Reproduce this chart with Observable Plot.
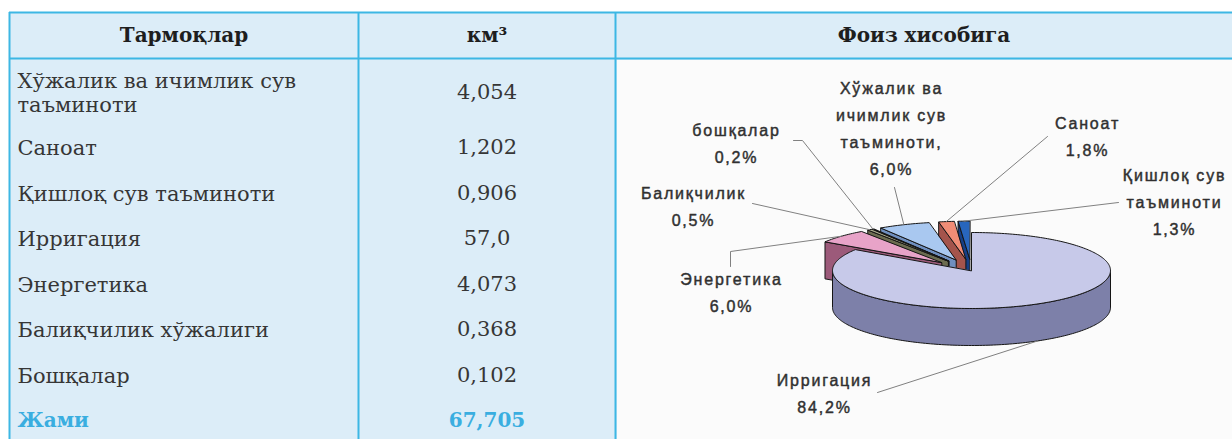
<!DOCTYPE html>
<html><head><meta charset="utf-8">
<script src="https://cdn.jsdelivr.net/npm/d3@7"></script>
<script src="https://cdn.jsdelivr.net/npm/@observablehq/plot@0.6"></script>
<style>
html,body{margin:0;padding:0;background:#fff;}
.pielab text{letter-spacing:1.8px;}
</style></head><body><div id="chart"></div>
<script>
// ---- data ----
const headers = ["Тармоқлар", "км³", "Фоиз хисобига"];
const categories = ["Хўжалик ва ичимлик сув таъминоти", "Саноат", "Қишлоқ сув таъминоти", "Ирригация", "Энергетика", "Балиқчилик хўжалиги", "Бошқалар"];
const tableNames = ["Хўжалик ва ичимлик сув\nтаъминоти", "Саноат", "Қишлоқ сув таъминоти", "Ирригация", "Энергетика", "Балиқчилик хўжалиги", "Бошқалар"];
const values = [4.054, 1.202, 0.906, 57.0, 4.073, 0.368, 0.102];
const valueLabels = ["4,054", "1,202", "0,906", "57,0", "4,073", "0,368", "0,102"];
const totalName = "Жами";
const totalLabel = "67,705";
const pieNames = ["Хўжалик ва\nичимлик сув\nтаъминоти,", "Саноат", "Қишлоқ сув\nтаъминоти", "Ирригация", "Энергетика", "Балиқчилик", "бошқалар"];
const pieOrder = [3, 4, 5, 6, 0, 1, 2]; // clockwise from 12 o'clock
const pieColors = ["#a9c8f0", "#f08c76", "#2866bd", "#c7c9e9", "#e8a3c8", "#a9a98a", "#2a2a32"];
const pieSideColors = ["#6f8fbf", "#a4544c", "#163f85", "#7d80a9", "#9c5a7a", "#6c6c50", "#141418"];

// ---- layout ----
const W = 1232, H = 439;
const T = {left: 9, top: 12, headBottom: 58, col1: 358, col2: 615, textX: 17, headY: 35,
  firstRowY: 92, rowStart: 147, rowStep: 45.5};
const line = "#3db7e4", bg = "#dcedf8";
const serif = "DejaVu Serif", sans = "Liberation Sans";
const c1 = (T.left + T.col1) / 2, c2 = (T.col1 + T.col2) / 2, c3 = (T.col2 + W) / 2;
const rowY = i => i === 0 ? T.firstRowY : T.rowStart + (i - 1) * T.rowStep;

const P = {cx: 971, cy: 270, rx: 139, ry: 38, depth: 37, explode: 0.3};
const labelPos = [[891, 85], [1087, 120], [1174, 172], [824, 377], [731, 276], [693, 190], [736, 127]];
const leaderStart = [[[894, 187]], [[1047, 136]], [[1118, 202]], [[877, 392]], [[730, 266], [730, 251]], [[752, 203]], [[793, 140], [802, 140]]];
const labelStep = 27;

// ---- pie geometry ----
const total = d3.sum(values);
let acc = 0;
const slices = pieOrder.map(i => {
  const a0 = acc, a1 = acc + values[i] / total * 2 * Math.PI;
  acc = a1;
  const mid = (a0 + a1) / 2;
  const e = i === 3 ? 0 : P.explode;
  return {i, a0, a1, mid, ox: e * P.rx * Math.sin(mid), oy: -e * P.ry * Math.cos(mid)};
});
const pt = (s, a, dz = 0) => ({x: P.cx + s.ox + P.rx * Math.sin(a), y: P.cy + s.oy - P.ry * Math.cos(a) + dz});
const tip = (s, dz = 0) => ({x: P.cx + s.ox, y: P.cy + s.oy + dz});
const arc = (s, a0, a1, dz = 0) => {
  const n = Math.max(2, Math.ceil(Math.abs(a1 - a0) / 0.02));
  return d3.range(n + 1).map(k => pt(s, a0 + (a1 - a0) * k / n, dz));
};
const shapes = [];
const drawOrder = slices.slice().sort((a, b) => Math.cos(b.mid) - Math.cos(a.mid));
for (const s of drawOrder) {
  const fill = pieColors[s.i], side = pieSideColors[s.i];
  if (Math.sin(s.a0) < -1e-6) shapes.push({fill: side, pts: [tip(s), pt(s, s.a0), pt(s, s.a0, P.depth), tip(s, P.depth)]});
  if (Math.sin(s.a1) > 1e-6) shapes.push({fill: side, pts: [tip(s), pt(s, s.a1), pt(s, s.a1, P.depth), tip(s, P.depth)]});
  const w0 = Math.max(s.a0, Math.PI / 2), w1 = Math.min(s.a1, 3 * Math.PI / 2);
  if (w1 > w0) shapes.push({fill: side, pts: [...arc(s, w0, w1), ...arc(s, w1, w0, P.depth)]});
  shapes.push({fill, pts: [tip(s), ...arc(s, s.a0, s.a1)]});
}
const sliceOf = i => slices.find(s => s.i === i);
const leaders = values.map((v, i) => {
  const s = sliceOf(i);
  const end = i === 3 ? pt(s, s.mid, P.depth) : pt(s, s.mid);
  return [...leaderStart[i].map(([x, y]) => ({x, y})), end];
});
const fmtPct = v => d3.format(".1f")(v * 100).replace(".", ",") + "%";
const pieLabels = values.map((v, i) => {
  const text = pieNames[i] + "\n" + fmtPct(v / total);
  const n = text.split("\n").length;
  return {text, x: labelPos[i][0], y: labelPos[i][1] + (n - 1) * labelStep / 2};
});

// ---- table data ----
const rows = categories.map((c, i) => ({name: tableNames[i], value: valueLabels[i], y: rowY(i)}));
const headerCells = headers.map((h, i) => ({text: h, x: [c1, c2, c3][i], y: T.headY}));
const totalY = rowY(categories.length);

const chart = Plot.plot({
  width: W, height: H, margin: 0,
  x: {domain: [0, W], range: [0, W], axis: null},
  y: {domain: [0, H], range: [0, H], axis: null},
  style: {background: "#fff"},
  marks: [
    Plot.rect([{x1: T.left, x2: W, y1: T.top, y2: H}], {x1: "x1", x2: "x2", y1: "y1", y2: "y2", fill: bg}),
    Plot.rect([{x1: T.col2 + 2, x2: W, y1: T.headBottom + 2, y2: H}], {x1: "x1", x2: "x2", y1: "y1", y2: "y2", fill: "#fbfbfb"}),
    Plot.ruleY([T.top, T.headBottom], {x1: T.left, x2: W, stroke: line, strokeWidth: 2}),
    Plot.ruleX([T.left, T.col1, T.col2], {y1: T.top, y2: H, stroke: line, strokeWidth: 2}),
    Plot.text(headerCells, {x: "x", y: "y", text: "text", fontFamily: serif, fontWeight: "bold", fontSize: 20, fill: "#1e1e1e"}),
    Plot.text(rows, {x: T.textX, y: "y", text: "name", textAnchor: "start", fontFamily: serif, fontSize: 21, lineHeight: 1.15, fill: "#363636"}),
    Plot.text(rows, {x: c2, y: "y", text: "value", fontFamily: serif, fontSize: 21, fill: "#363636"}),
    Plot.text([totalName], {x: T.textX, y: () => totalY, text: d => d, textAnchor: "start", fontFamily: serif, fontWeight: "bold", fontSize: 20, fill: "#3aaee0"}),
    Plot.text([totalLabel], {x: c2, y: () => totalY, text: d => d, fontFamily: serif, fontWeight: "bold", fontSize: 20, fill: "#3aaee0"}),
    ...shapes.map(s => Plot.line(s.pts, {x: "x", y: "y", fill: s.fill, stroke: "#151515", strokeWidth: 1, curve: "linear-closed"})),
    ...leaders.map(l => Plot.line(l, {x: "x", y: "y", stroke: "#808080", strokeWidth: 1})),
    Plot.text(pieLabels, {x: "x", y: "y", text: "text", fontFamily: sans, fontSize: 16, lineHeight: labelStep / 16, fill: "#303030", stroke: "#303030", strokeWidth: 0.45, className: "pielab"})
  ]
});
document.getElementById("chart").appendChild(chart);
</script></body></html>
